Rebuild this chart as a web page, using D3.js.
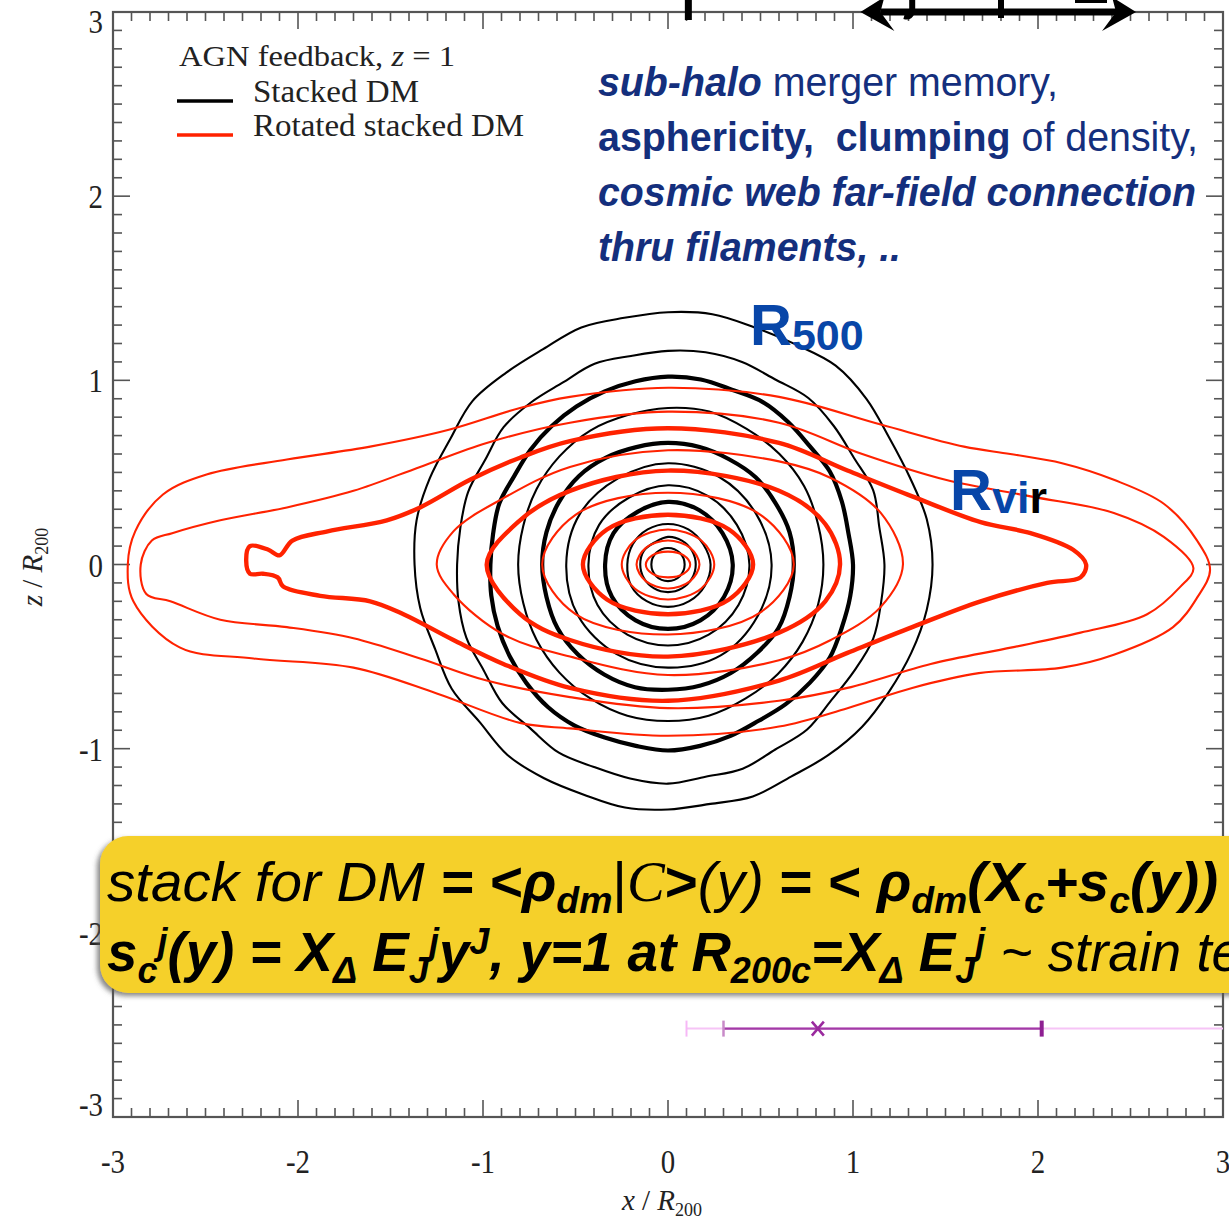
<!DOCTYPE html>
<html><head><meta charset="utf-8">
<script src="https://cdn.jsdelivr.net/npm/d3@7"></script>
<style>body{margin:0;background:#fff} svg{display:block} text{white-space:pre}</style>
</head><body>
<script>
// ---------------- DATA ----------------
const xTickValues = [-3, -2, -1, 0, 1, 2, 3];
const yTickValues = [-3, -2, -1, 0, 1, 2, 3];
const xTickLabels = ["-3", "-2", "-1", "0", "1", "2", "3"];
const yTickLabels = ["-3", "-2", "-1", "0", "1", "2", "3"];

// Stacked DM (black): contour radius (in R200) sampled at equal angles, counter-clockwise from +x
const blackRadii = [
  [1.43,1.42,1.39,1.38,1.40,1.41,1.38,1.37,1.38,1.37,1.36,1.37,1.35,1.36,1.38,1.36,1.37,1.38,1.37,1.36,1.34,1.35,1.33,1.35,1.34,1.33,1.34,1.33,1.32,1.34,1.33,1.35,1.37,1.38,1.40,1.42],
  [1.17,1.16,1.18,1.16,1.17,1.18,1.16,1.17,1.17,1.16,1.15,1.16,1.14,1.15,1.16,1.14,1.15,1.14,1.14,1.15,1.16,1.15,1.17,1.16,1.18,1.17,1.18,1.19,1.17,1.18,1.16,1.17,1.15,1.16,1.18,1.17],
  [1.00,0.99,1.00,1.01,1.00,1.01,1.02,1.01,1.02,1.02,1.01,1.00,0.99,0.98,0.97,0.96,0.97,0.96,0.96,0.97,0.98,0.99,1.00,1.01,1.01,1.00,1.00,1.01,1.00,0.99,0.98,0.99,1.00,1.01,1.00,1.00],
  [0.84,0.84,0.85,0.85,0.85,0.86,0.85,0.84,0.84,0.83,0.82,0.81,0.81,0.81,0.82,0.83,0.84,0.85,0.85,0.85,0.84,0.84,0.84,0.84],
  [0.68,0.68,0.67,0.67,0.66,0.66,0.66,0.66,0.67,0.68,0.68,0.68,0.68,0.68,0.69,0.69,0.69,0.69,0.68,0.68,0.68,0.68,0.69,0.68],
  [0.56,0.55,0.55,0.55,0.54,0.55,0.55,0.56,0.56,0.56,0.57,0.56],
  [0.44,0.43,0.43,0.43,0.42,0.43,0.43,0.44,0.44,0.44,0.44,0.44],
  [0.35,0.34,0.34,0.34,0.33,0.34,0.34,0.35,0.35,0.35,0.35,0.35],
  [0.23,0.22,0.22,0.22,0.22,0.22,0.22,0.23,0.23,0.23,0.23,0.23],
  [0.15,0.15,0.15,0.15,0.14,0.15,0.15,0.15,0.15,0.15,0.15,0.15],
  [0.09,0.09,0.09,0.09,0.09,0.09,0.09,0.09]
];
const blackThick = [false,false,true,false,true,false,false,true,false,false,false];

// Rotated stacked DM (red): contour outlines as [x/R200, z/R200]
const redOutlines = [
  [[2.93,-0.03],[2.86,0.13],[2.68,0.33],[2.41,0.46],[2.13,0.55],[1.85,0.60],[1.60,0.64],[1.15,0.76],[0.60,0.91],[0.00,0.96],[-0.53,0.91],[-0.80,0.85],[-1.19,0.73],[-1.61,0.64],[-2.06,0.57],[-2.49,0.49],[-2.73,0.38],[-2.88,0.18],[-2.92,0.00],[-2.89,-0.20],[-2.64,-0.45],[-2.24,-0.51],[-1.70,-0.56],[-1.25,-0.70],[-0.80,-0.86],[-0.53,-0.89],[0.00,-0.93],[0.60,-0.88],[0.97,-0.78],[1.32,-0.67],[1.68,-0.59],[2.13,-0.56],[2.41,-0.49],[2.73,-0.34],[2.86,-0.18]],
  [[2.84,-0.02],[2.68,0.15],[2.41,0.28],[1.96,0.37],[1.50,0.46],[1.05,0.60],[0.60,0.77],[0.00,0.83],[-0.53,0.77],[-0.98,0.66],[-1.34,0.53],[-1.70,0.40],[-2.06,0.31],[-2.42,0.24],[-2.68,0.17],[-2.79,0.13],[-2.85,0.00],[-2.82,-0.16],[-2.69,-0.20],[-2.42,-0.30],[-2.06,-0.34],[-1.70,-0.40],[-1.34,-0.51],[-0.98,-0.63],[-0.53,-0.72],[0.00,-0.78],[0.60,-0.74],[0.97,-0.67],[1.42,-0.54],[1.86,-0.45],[2.23,-0.37],[2.59,-0.27],[2.77,-0.12]],
  [[2.26,0.00],[2.19,0.08],[1.96,0.17],[1.69,0.23],[1.32,0.37],[0.97,0.51],[0.60,0.66],[0.00,0.74],[-0.53,0.67],[-0.80,0.58],[-1.07,0.46],[-1.34,0.31],[-1.52,0.24],[-1.84,0.18],[-2.03,0.13],[-2.10,0.05],[-2.16,0.08],[-2.26,0.10],[-2.28,0.02],[-2.26,-0.05],[-2.19,-0.05],[-2.11,-0.07],[-2.08,-0.12],[-1.88,-0.17],[-1.61,-0.20],[-1.43,-0.27],[-1.16,-0.41],[-0.89,-0.54],[-0.53,-0.67],[0.00,-0.74],[0.60,-0.63],[0.97,-0.48],[1.32,-0.34],[1.69,-0.20],[2.05,-0.10],[2.23,-0.07]],
  [[1.27,0.00],[1.15,0.28],[0.88,0.47],[0.60,0.56],[0.00,0.62],[-0.53,0.53],[-0.89,0.36],[-1.16,0.18],[-1.25,0.00],[-1.16,-0.16],[-0.89,-0.38],[-0.53,-0.50],[0.00,-0.60],[0.60,-0.52],[0.88,-0.41],[1.15,-0.23]],
  [[0.93,0.00],[0.85,0.22],[0.60,0.40],[0.00,0.51],[-0.53,0.40],[-0.80,0.24],[-0.98,0.00],[-0.80,-0.27],[-0.53,-0.41],[0.00,-0.50],[0.60,-0.37],[0.85,-0.20]],
  [[0.68,0.00],[0.50,0.27],[0.00,0.39],[-0.50,0.27],[-0.68,0.00],[-0.50,-0.27],[0.00,-0.38],[0.50,-0.26]],
  [[0.46,0.00],[0.33,0.19],[0.00,0.27],[-0.33,0.19],[-0.46,0.00],[-0.33,-0.19],[0.00,-0.27],[0.33,-0.19]],
  [[0.25,0.00],[0.18,0.13],[0.00,0.19],[-0.18,0.13],[-0.25,0.00],[-0.18,-0.13],[0.00,-0.19],[0.18,-0.13]],
  [[0.17,0.00],[0.12,0.09],[0.00,0.13],[-0.12,0.09],[-0.17,0.00],[-0.12,-0.09],[0.00,-0.13],[0.12,-0.09]],
  [[0.12,0.00],[0.085,0.05],[0.00,0.07],[-0.085,0.05],[-0.12,0.00],[-0.085,-0.05],[0.00,-0.07],[0.085,-0.05]]
];
const redThick = [false,false,true,false,true,false,true,false,false,false];

// purple error bar near bottom
const errZ = -2.52;
const errCenter = 0.81;
const errInner = [0.30, 2.02];
const errOuter = [0.10, 3.00];

// cut-off annotation marks along the top edge (x in R200)
const topBarX = [0.11, 1.80];
const topArrowX = [1.04, 2.53];
const topHookX = 1.32;

const legendItems = ["Stacked DM", "Rotated stacked DM"];
const legendColors = ["#000000", "#ff2200"];

// ---------------- DRAW ----------------
const W = 1229, H = 1224;
const svg = d3.select("body").append("svg").attr("width", W).attr("height", H);
const X = d3.scaleLinear().domain([-3, 3]).range([113, 1223]);
const Y = d3.scaleLinear().domain([-3, 3]).range([1117, 12]);
const serif = "'Liberation Serif','Times New Roman',serif";
const sans = "'Liberation Sans',Arial,sans-serif";

// frame + ticks
const axisG = svg.append("g");
const minor = d3.range(-30, 31).map(i => i / 10);
const isMajor = v => Math.abs(v - Math.round(v)) < 1e-6;
const tickCol = "#555";
minor.forEach(v => {
  const L = isMajor(v) ? 17 : 9;
  axisG.append("line").attr("x1", X(v)).attr("x2", X(v)).attr("y1", Y(-3)).attr("y2", Y(-3) - L);
  axisG.append("line").attr("x1", X(v)).attr("x2", X(v)).attr("y1", Y(3)).attr("y2", Y(3) + L);
  axisG.append("line").attr("y1", Y(v)).attr("y2", Y(v)).attr("x1", X(-3)).attr("x2", X(-3) + L);
  axisG.append("line").attr("y1", Y(v)).attr("y2", Y(v)).attr("x1", X(3)).attr("x2", X(3) - L);
});
axisG.selectAll("line").attr("stroke", tickCol).attr("stroke-width", 1.6);
axisG.append("rect").attr("x", X(-3)).attr("y", Y(3)).attr("width", X(3) - X(-3)).attr("height", Y(-3) - Y(3))
  .attr("fill", "none").attr("stroke", "#555").attr("stroke-width", 2.2);

// tick labels (tall, slightly condensed serif digits)
xTickValues.forEach((v, i) => {
  svg.append("text").attr("transform", `translate(${X(v)},1173) scale(0.85,1)`).attr("text-anchor", "middle")
    .attr("font-family", serif).attr("font-size", 34).attr("fill", "#222").text(xTickLabels[i]);
});
yTickValues.forEach((v, i) => {
  const dy = v === 3 ? 21 : (v === -3 ? -1 : 12);
  svg.append("text").attr("transform", `translate(103,${Y(v) + dy}) scale(0.85,1)`).attr("text-anchor", "end")
    .attr("font-family", serif).attr("font-size", 34).attr("fill", "#222").text(yTickLabels[i]);
});
// axis titles
const xl = svg.append("text").attr("x", 662).attr("y", 1210).attr("text-anchor", "middle")
  .attr("font-family", serif).attr("font-size", 29).attr("fill", "#222");
xl.append("tspan").attr("font-style", "italic").text("x");
xl.append("tspan").text(" / ");
xl.append("tspan").attr("font-style", "italic").text("R");
xl.append("tspan").attr("font-size", 18).attr("dy", 6).text("200");
const yl = svg.append("text").attr("transform", "translate(42,567) rotate(-90)").attr("text-anchor", "middle")
  .attr("font-family", serif).attr("font-size", 29).attr("fill", "#222");
yl.append("tspan").attr("font-style", "italic").text("z");
yl.append("tspan").text(" / ");
yl.append("tspan").attr("font-style", "italic").text("R");
yl.append("tspan").attr("font-size", 18).attr("dy", 6).text("200");

// contours
const line = d3.line().x(d => X(d[0])).y(d => Y(d[1])).curve(d3.curveCatmullRomClosed.alpha(0.5));
const cg = svg.append("g").attr("fill", "none").attr("stroke-linejoin", "round");
blackRadii.forEach((r, k) => {
  const pts = r.map((rr, i) => { const a = 2 * Math.PI * i / r.length; return [rr * Math.cos(a), rr * Math.sin(a)]; });
  cg.append("path").attr("d", line(pts)).attr("stroke", "#000").attr("stroke-width", blackThick[k] ? 4.2 : 2.1);
});
redOutlines.forEach((pts, k) => {
  cg.append("path").attr("d", line(pts)).attr("stroke", "#ff2200").attr("stroke-width", redThick[k] ? 4.4 : 2.1);
});

// legend
svg.append("text").attr("x", 179).attr("y", 66).attr("font-family", serif).attr("font-size", 30).attr("fill", "#222")
  .attr("textLength", 276).attr("lengthAdjust", "spacingAndGlyphs")
  .call(t => { t.append("tspan").text("AGN feedback, "); t.append("tspan").attr("font-style", "italic").text("z"); t.append("tspan").text(" = 1"); });
legendItems.forEach((s, i) => {
  const yy = [101, 135][i];
  svg.append("line").attr("x1", 177).attr("x2", 233).attr("y1", yy).attr("y2", yy).attr("stroke", legendColors[i]).attr("stroke-width", 3.5);
  svg.append("text").attr("x", 253).attr("y", yy + 1).attr("font-family", serif).attr("font-size", 31).attr("fill", "#222")
    .attr("textLength", [166, 271][i]).attr("lengthAdjust", "spacingAndGlyphs").text(s);
});

// rich text helper (sub/superscripts via dy shifts)
const navy = "#142f7d";
function rich(parent, x, y, size, segs, len, color, supShift) {
  const t = parent.append("text").attr("x", x).attr("y", y).attr("font-size", size).attr("fill", color || "#000");
  let cur = 0;
  const up = supShift || 0.38;
  segs.forEach(s => {
    const off = s.sh === "sub" ? size * 0.22 : s.sh === "sup" ? -size * up : 0;
    const ts = t.append("tspan").attr("dy", off - cur).text(s.t)
      .attr("font-family", s.f || sans)
      .attr("font-weight", s.b ? "bold" : "normal")
      .attr("font-style", s.i ? "italic" : "normal");
    if (s.sh) ts.attr("font-size", size * 0.66);
    if (s.c) ts.attr("fill", s.c);
    cur = off;
  });
  if (len) t.attr("textLength", len).attr("lengthAdjust", "spacingAndGlyphs");
  return t;
}
rich(svg, 598, 96, 41, [{t: "sub-halo", b: 1, i: 1}, {t: " merger memory,"}], 460, navy);
rich(svg, 598, 151, 41, [{t: "asphericity,  clumping", b: 1}, {t: " of density,"}], 600, navy);
rich(svg, 598, 206, 41, [{t: "cosmic web far-field connection", b: 1, i: 1}], 598, navy);
rich(svg, 598, 261, 41, [{t: "thru filaments, ..", b: 1, i: 1}], 303, navy);

// R500 / Rvir labels
const blue = "#0846a8";
const r5 = svg.append("text").attr("x", 750).attr("y", 345).attr("font-family", sans).attr("font-weight", "bold").attr("fill", blue);
r5.append("tspan").attr("font-size", 58).text("R");
r5.append("tspan").attr("font-size", 43).attr("dy", 5).text("500");
const rv = svg.append("text").attr("x", 950).attr("y", 510).attr("font-family", sans).attr("font-weight", "bold").attr("fill", blue);
rv.append("tspan").attr("font-size", 58).text("R");
rv.append("tspan").attr("font-size", 45).attr("dy", 3).text("vi");
rv.append("tspan").attr("font-size", 45).attr("fill", "#000").text("r");

// top cut-off annotation marks
const tg = svg.append("g");
tg.append("line").attr("x1", X(topBarX[0])).attr("x2", X(topBarX[0])).attr("y1", 0).attr("y2", 20).attr("stroke", "#000").attr("stroke-width", 7);
tg.append("line").attr("x1", X(topBarX[1])).attr("x2", X(topBarX[1])).attr("y1", 0).attr("y2", 18).attr("stroke", "#000").attr("stroke-width", 6);
tg.append("path").attr("d", `M${X(topHookX)},0 L${X(topHookX)},10 Q${X(topHookX) - 1},18 ${X(topHookX) - 8},16`).attr("fill", "none").attr("stroke", "#000").attr("stroke-width", 6);
const ax0 = X(topArrowX[0]), ax1 = X(topArrowX[1]);
tg.append("line").attr("x1", ax0 + 20).attr("x2", ax1 - 20).attr("y1", 12).attr("y2", 12).attr("stroke", "#000").attr("stroke-width", 7);
tg.append("path").attr("d", `M${ax0},12 L${ax0 + 24},-3 L${ax0 + 20},12 L${ax0 + 34},31 Z`).attr("fill", "#000");
tg.append("path").attr("d", `M${ax1},12 L${ax1 - 24},-3 L${ax1 - 20},12 L${ax1 - 34},31 Z`).attr("fill", "#000");
tg.append("rect").attr("x", 1075).attr("y", 0).attr("width", 32).attr("height", 3).attr("fill", "#000");

// purple error bar
const eg = svg.append("g");
const ey = Y(errZ);
eg.append("line").attr("x1", X(errOuter[0])).attr("x2", X(errOuter[1])).attr("y1", ey).attr("y2", ey).attr("stroke", "#f6c4f6").attr("stroke-width", 2);
eg.append("line").attr("x1", X(errOuter[0])).attr("x2", X(errOuter[0])).attr("y1", ey - 8).attr("y2", ey + 8).attr("stroke", "#f6b8f6").attr("stroke-width", 2);
eg.append("line").attr("x1", X(errInner[0])).attr("x2", X(errInner[1])).attr("y1", ey).attr("y2", ey).attr("stroke", "#a23aa6").attr("stroke-width", 2.4);
eg.append("line").attr("x1", X(errInner[0])).attr("x2", X(errInner[0])).attr("y1", ey - 8).attr("y2", ey + 8).attr("stroke", "#c88ac8").attr("stroke-width", 2.5);
eg.append("line").attr("x1", X(errInner[1])).attr("x2", X(errInner[1])).attr("y1", ey - 8).attr("y2", ey + 8).attr("stroke", "#8e1f92").attr("stroke-width", 4);
const cx = X(errCenter);
eg.append("path").attr("d", `M${cx - 6},${ey - 7} L${cx + 6},${ey + 7} M${cx - 6},${ey + 7} L${cx + 6},${ey - 7}`).attr("stroke", "#9a2a9e").attr("stroke-width", 2.6);

// yellow formula box
const defs = svg.append("defs");
const f = defs.append("filter").attr("id", "sh").attr("x", "-5%").attr("y", "-10%").attr("width", "110%").attr("height", "130%");
f.append("feDropShadow").attr("dx", -3).attr("dy", 3).attr("stdDeviation", 2.5).attr("flood-color", "#555").attr("flood-opacity", 0.7);
svg.append("rect").attr("x", 100).attr("y", 836).attr("width", 1180).attr("height", 157).attr("rx", 28)
  .attr("fill", "#f5d02c").attr("filter", "url(#sh)");
rich(svg, 107, 901, 56, [
  {t: "stack for DM ", i: 1}, {t: "= <", b: 1, i: 1}, {t: "\u03c1", b: 1, i: 1}, {t: "dm", b: 1, i: 1, sh: "sub"},
  {t: "|", i: 0}, {t: "C", f: serif, i: 1}, {t: ">", b: 1}, {t: "(y) ", i: 1}, {t: "= < ", b: 1},
  {t: "\u03c1", b: 1, i: 1}, {t: "dm", b: 1, i: 1, sh: "sub"}, {t: "(X", b: 1, i: 1}, {t: "c", b: 1, i: 1, sh: "sub"},
  {t: "+s", b: 1, i: 1}, {t: "c", b: 1, i: 1, sh: "sub"}, {t: "(y))", b: 1, i: 1}
], 1111, "#000", 0.38);
rich(svg, 107, 971, 56, [
  {t: "s", b: 1, i: 1}, {t: "c", b: 1, i: 1, sh: "sub"}, {t: "j", b: 1, i: 1, sh: "sup"}, {t: "(y) = X", b: 1, i: 1},
  {t: "\u0394", b: 1, i: 1, sh: "sub"}, {t: " E", b: 1, i: 1}, {t: "J", b: 1, i: 1, sh: "sub"}, {t: "j", b: 1, i: 1, sh: "sup"},
  {t: "y", b: 1, i: 1}, {t: "J", b: 1, i: 1, sh: "sup"}, {t: ", y=1 at R", b: 1, i: 1}, {t: "200c", b: 1, i: 1, sh: "sub"},
  {t: "=X", b: 1, i: 1}, {t: "\u0394", b: 1, i: 1, sh: "sub"}, {t: " E", b: 1, i: 1}, {t: "J", b: 1, i: 1, sh: "sub"},
  {t: "j", b: 1, i: 1, sh: "sup"}, {t: " ~ strain te", i: 1}
], 1135, "#000", 0.3);
</script>
</body></html>
